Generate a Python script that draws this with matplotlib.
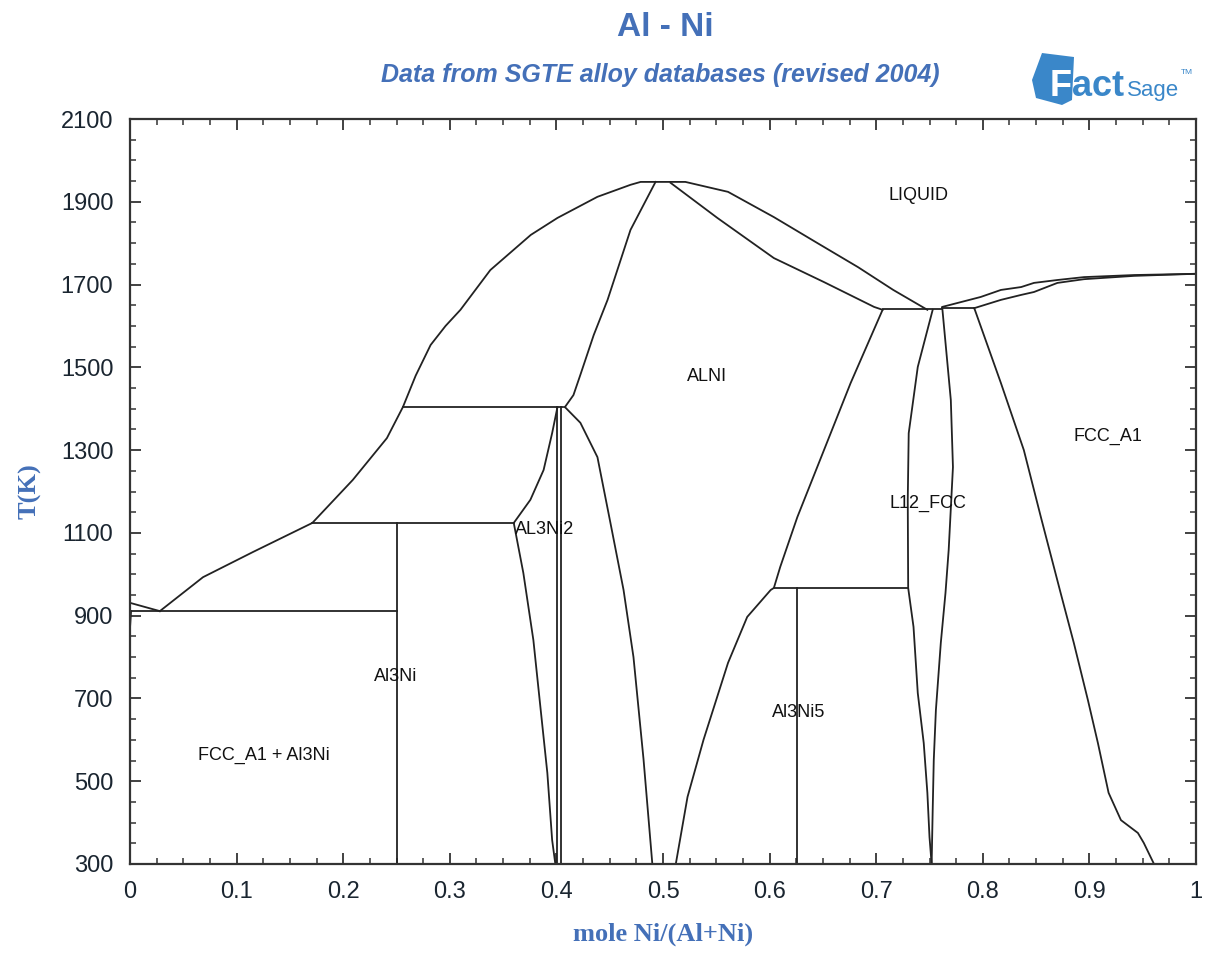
import matplotlib
matplotlib.use("Agg")
import matplotlib.pyplot as plt
from matplotlib.ticker import MultipleLocator, FixedLocator
from matplotlib.patches import Polygon

# ---------------- data (x = mole fraction Ni, T in K) ----------------
liq_al_x = [0.0, 0.028]
liq_al_T = [931, 911]

liq_main_x = [0.028, 0.0685, 0.1155, 0.171, 0.209, 0.241, 0.256, 0.268, 0.282, 0.296,
              0.310, 0.338, 0.376, 0.401, 0.4385, 0.4695, 0.479, 0.521, 0.561, 0.604,
              0.645, 0.683, 0.716, 0.748]
liq_main_T = [911, 993, 1054, 1124, 1228, 1329, 1404, 1480, 1554, 1600,
              1639, 1735, 1820, 1861, 1912, 1941, 1948, 1948, 1924, 1863,
              1800, 1742, 1687, 1639]

alni_sol_left_x = [0.493, 0.4695, 0.448, 0.435, 0.4225, 0.416, 0.408]
alni_sol_left_T = [1948, 1832, 1663, 1578, 1482, 1433, 1404]

alni_low_left_x = [0.408, 0.4225, 0.4385, 0.4507, 0.463, 0.4723, 0.4817, 0.490]
alni_low_left_T = [1404, 1366, 1283, 1124, 962, 800, 554, 300]

alni_sol_right_x = [0.507, 0.551, 0.604, 0.651, 0.698, 0.706]
alni_sol_right_T = [1946, 1861, 1764, 1706, 1646, 1639]

alni_low_right_x = [0.706, 0.676, 0.651, 0.626, 0.610, 0.604, 0.601, 0.579, 0.561,
                    0.538, 0.523, 0.512]
alni_low_right_T = [1639, 1462, 1300, 1138, 1018, 967, 962, 897, 786,
                    600, 462, 300]

al3ni2_left_x = [0.401, 0.396, 0.388, 0.3756, 0.360, 0.369, 0.3784, 0.385, 0.3915,
                 0.396, 0.399]
al3ni2_left_T = [1404, 1341, 1252, 1180, 1124, 1003, 841, 679, 520, 358, 300]

l12_left_x = [0.753, 0.739, 0.7305, 0.7296, 0.730, 0.735, 0.739, 0.7446, 0.748,
              0.750, 0.752]
l12_left_T = [1639, 1501, 1341, 1180, 967, 873, 713, 592, 472, 365, 300]

l12_right_x = [0.762, 0.770, 0.772, 0.768, 0.765, 0.7606, 0.756, 0.754, 0.753, 0.752]
l12_right_T = [1643, 1421, 1259, 1059, 955, 834, 672, 551, 431, 300]

fcc_liq_x = [0.762, 0.798, 0.817, 0.836, 0.848, 0.870, 0.895, 0.942, 1.0]
fcc_liq_T = [1646, 1670, 1687, 1694, 1704, 1711, 1718, 1723, 1726]

fcc_sol_x = [0.792, 0.817, 0.836, 0.848, 0.870, 0.895, 0.942, 1.0]
fcc_sol_T = [1643, 1663, 1675, 1682, 1704, 1713, 1721, 1726]

fcc_solvus_x = [0.792, 0.817, 0.8385, 0.8545, 0.873, 0.8854, 0.8986, 0.908, 0.918,
                0.9296, 0.9455, 0.951, 0.9606]
fcc_solvus_T = [1643, 1462, 1300, 1138, 955, 834, 696, 592, 472,
                406, 375, 351, 300]

al_solvus_x = [0.001, 0.0]
al_solvus_T = [911, 870]

# invariant (horizontal) lines: (x_start, x_end, T)
horiz_lines = [
    (0.0, 0.25, 911),
    (0.171, 0.360, 1124),
    (0.256, 0.406, 1404),
    (0.706, 0.762, 1640),
    (0.762, 0.792, 1643),
    (0.604, 0.730, 967),
]
# compound (vertical) lines: (x, T_top, T_bottom)
vert_lines = [
    (0.25, 1124, 300),
    (0.626, 967, 300),
    (0.404, 1404, 300),
    (0.401, 1404, 300),
]

# region labels: (text, x, T)
labels = [
    ("LIQUID", 0.74, 1916),
    ("ALNI", 0.541, 1479),
    ("FCC_A1", 0.917, 1332),
    ("L12_FCC", 0.749, 1172),
    ("AL3Ni2", 0.389, 1109),
    ("Al3Ni", 0.249, 752),
    ("Al3Ni5", 0.627, 665),
    ("FCC_A1 + Al3Ni", 0.126, 563),
]

x_ticks = [0, 0.1, 0.2, 0.3, 0.4, 0.5, 0.6, 0.7, 0.8, 0.9, 1]
x_tick_labels = ["0", "0.1", "0.2", "0.3", "0.4", "0.5", "0.6", "0.7", "0.8", "0.9", "1"]
y_ticks = [300, 500, 700, 900, 1100, 1300, 1500, 1700, 1900, 2100]

# ---------------- figure ----------------
W, H = 1205, 960
fig = plt.figure(figsize=(W / 100, H / 100), dpi=100)
fig.patch.set_facecolor("white")
ax = fig.add_axes([130 / W, 1 - 864 / H, (1196 - 130) / W, (864 - 119) / H])

lc = "#222222"
lw = 1.3
curves = [
    (liq_al_x, liq_al_T), (liq_main_x, liq_main_T),
    (alni_sol_left_x, alni_sol_left_T), (alni_low_left_x, alni_low_left_T),
    (alni_sol_right_x, alni_sol_right_T), (alni_low_right_x, alni_low_right_T),
    (al3ni2_left_x, al3ni2_left_T), (l12_left_x, l12_left_T),
    (l12_right_x, l12_right_T), (fcc_liq_x, fcc_liq_T), (fcc_sol_x, fcc_sol_T),
    (fcc_solvus_x, fcc_solvus_T), (al_solvus_x, al_solvus_T),
]
for xs, ts in curves:
    ax.plot(xs, ts, color=lc, lw=lw, solid_joinstyle="round")
for x0, x1, t in horiz_lines:
    ax.plot([x0, x1], [t, t], color=lc, lw=lw)
for x, t0, t1 in vert_lines:
    ax.plot([x, x], [t0, t1], color=lc, lw=lw)

for txt, x, t in labels:
    ax.text(x, t, txt, ha="center", va="center", fontsize=13,
            family="Liberation Sans", color="#111111")

ax.set_xlim(0, 1)
ax.set_ylim(300, 2100)
ax.xaxis.set_major_locator(FixedLocator(x_ticks))
ax.set_xticklabels(x_tick_labels)
ax.xaxis.set_minor_locator(MultipleLocator(0.025))
ax.yaxis.set_major_locator(FixedLocator(y_ticks))
ax.yaxis.set_minor_locator(MultipleLocator(50))
ax.tick_params(which="both", direction="in", top=True, right=True, color="#333333")
ax.tick_params(which="major", length=8, width=1.3, pad=12, labelsize=17)
ax.tick_params(which="minor", length=4, width=1.1)
for lab in ax.get_xticklabels() + ax.get_yticklabels():
    lab.set_family("Liberation Sans")
    lab.set_color("#1a2530")
for s in ax.spines.values():
    s.set_color("#333333")
    s.set_linewidth(1.6)

blue = "#4470b8"
ax.set_xlabel("mole Ni/(Al+Ni)", family="Liberation Serif", fontweight="bold",
              fontsize=19, color=blue, labelpad=14)
ax.set_ylabel("T(K)", family="Liberation Serif", fontweight="bold",
              fontsize=19, color=blue, labelpad=14)

fig.text(665 / W, 1 - 27 / H, "Al - Ni", ha="center", va="center", fontsize=24,
         fontweight="bold", family="Liberation Sans", color=blue)
fig.text(660 / W, 1 - 75 / H, "Data from SGTE alloy databases (revised 2004)",
         ha="center", va="center", fontsize=18, fontweight="bold", style="italic",
         family="Liberation Sans", color=blue)

# FactSage logo
logo_blue = "#3a87c9"
blob = [(1042, 53), (1074, 57), (1072, 100), (1062, 105), (1036, 98), (1032, 80)]
fig.patches.append(Polygon([(px / W, 1 - py / H) for px, py in blob], closed=True,
                           transform=fig.transFigure, facecolor=logo_blue,
                           edgecolor="none"))
fig.text(1050 / W, 1 - 96 / H, "F", ha="left", va="baseline", fontsize=26,
         fontweight="bold", family="Liberation Sans", color="white")
fig.text(1072 / W, 1 - 96 / H, "act", ha="left", va="baseline", fontsize=26,
         fontweight="bold", family="Liberation Sans", color=logo_blue)
fig.text(1127 / W, 1 - 96 / H, "Sage", ha="left", va="baseline", fontsize=16,
         family="Liberation Sans", color=logo_blue)
fig.text(1181 / W, 1 - 72 / H, "TM", ha="left", va="center", fontsize=6,
         family="Liberation Sans", color=logo_blue)

fig.savefig("out.png", dpi=100, facecolor="white")
